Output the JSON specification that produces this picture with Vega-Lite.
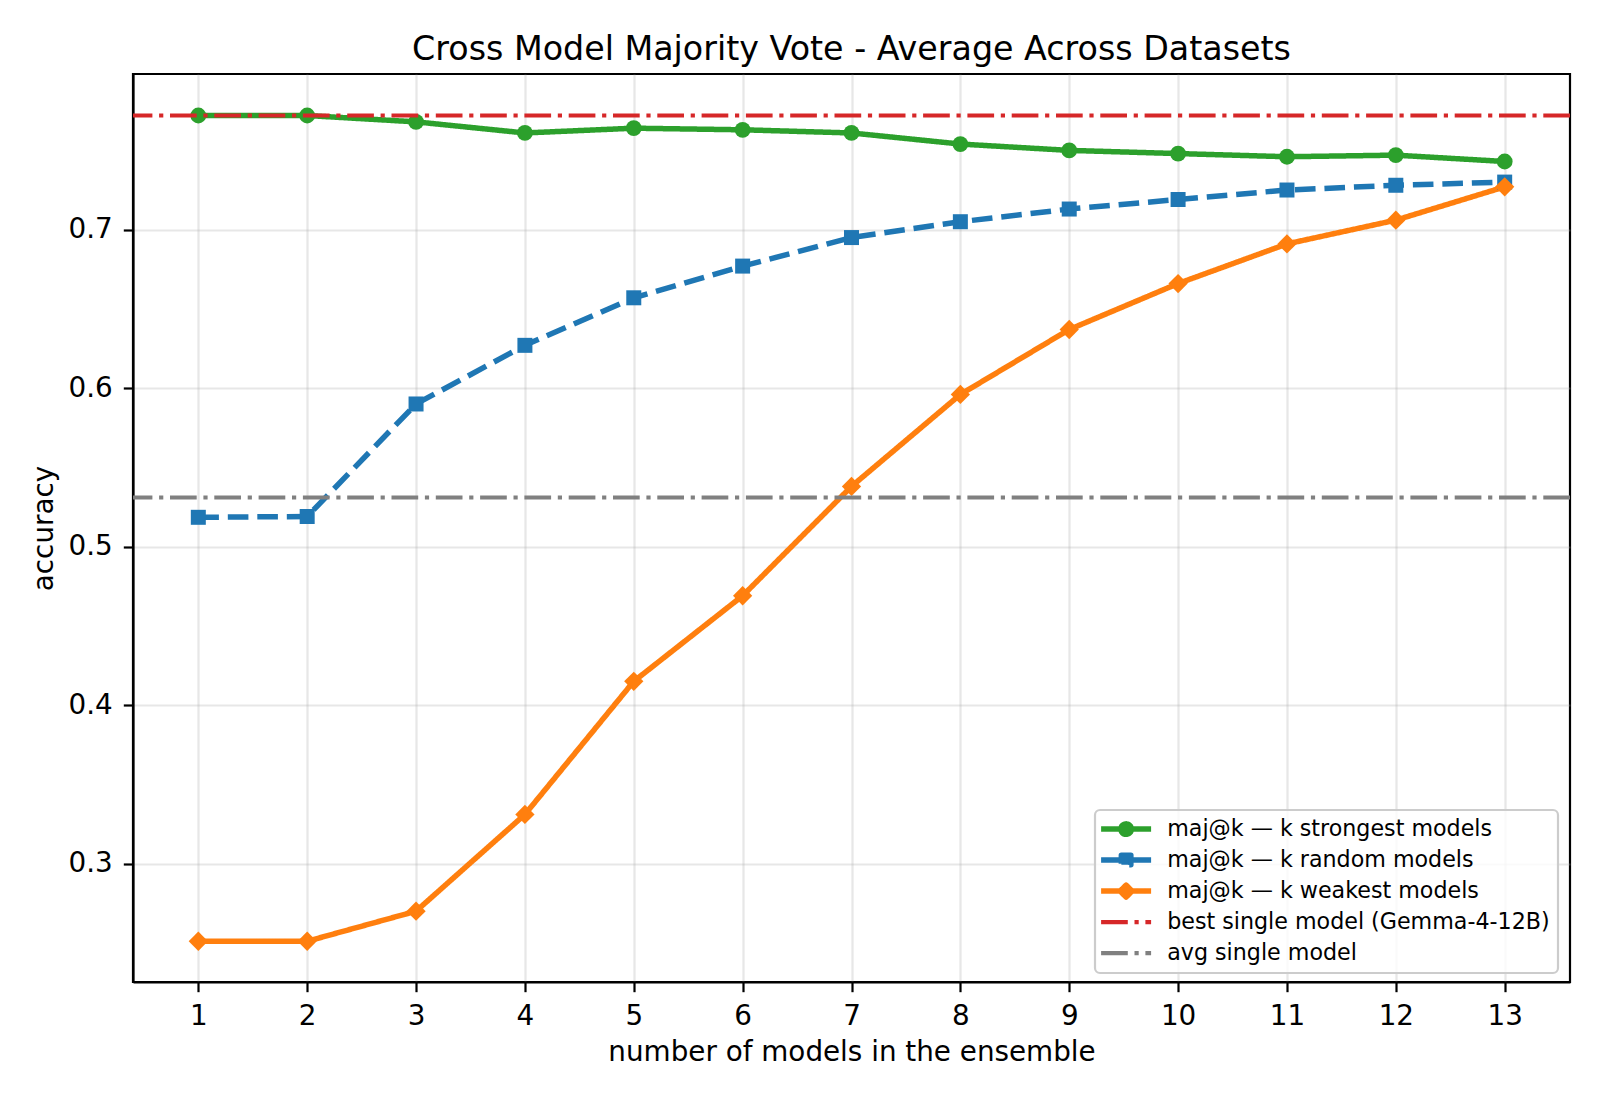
{
  "$schema": "https://vega.github.io/schema/vega-lite/v6.json",
  "width": 1437,
  "height": 908,
  "autosize": {"type": "none"},
  "padding": {"left": 133, "top": 74, "right": 30, "bottom": 118},
  "background": "white",
  "title": {
    "text": "Cross Model Majority Vote - Average Across Datasets",
    "font": "DejaVu Sans",
    "fontSize": 33.3,
    "fontWeight": "normal",
    "color": "black",
    "anchor": "middle",
    "baseline": "bottom",
    "offset": 9,
    "dy": 35
  },
  "datasets": {
    "ensemble": [
      {"k": 1, "series": "maj@k — k strongest models", "acc": 0.772},
      {"k": 2, "series": "maj@k — k strongest models", "acc": 0.772},
      {"k": 3, "series": "maj@k — k strongest models", "acc": 0.768},
      {"k": 4, "series": "maj@k — k strongest models", "acc": 0.761},
      {"k": 5, "series": "maj@k — k strongest models", "acc": 0.764},
      {"k": 6, "series": "maj@k — k strongest models", "acc": 0.763},
      {"k": 7, "series": "maj@k — k strongest models", "acc": 0.761},
      {"k": 8, "series": "maj@k — k strongest models", "acc": 0.754},
      {"k": 9, "series": "maj@k — k strongest models", "acc": 0.750},
      {"k": 10, "series": "maj@k — k strongest models", "acc": 0.748},
      {"k": 11, "series": "maj@k — k strongest models", "acc": 0.746},
      {"k": 12, "series": "maj@k — k strongest models", "acc": 0.747},
      {"k": 13, "series": "maj@k — k strongest models", "acc": 0.743},
      {"k": 1, "series": "maj@k — k random models", "acc": 0.5185},
      {"k": 2, "series": "maj@k — k random models", "acc": 0.519},
      {"k": 3, "series": "maj@k — k random models", "acc": 0.590},
      {"k": 4, "series": "maj@k — k random models", "acc": 0.627},
      {"k": 5, "series": "maj@k — k random models", "acc": 0.657},
      {"k": 6, "series": "maj@k — k random models", "acc": 0.677},
      {"k": 7, "series": "maj@k — k random models", "acc": 0.695},
      {"k": 8, "series": "maj@k — k random models", "acc": 0.705},
      {"k": 9, "series": "maj@k — k random models", "acc": 0.713},
      {"k": 10, "series": "maj@k — k random models", "acc": 0.719},
      {"k": 11, "series": "maj@k — k random models", "acc": 0.725},
      {"k": 12, "series": "maj@k — k random models", "acc": 0.728},
      {"k": 13, "series": "maj@k — k random models", "acc": 0.730},
      {"k": 1, "series": "maj@k — k weakest models", "acc": 0.251},
      {"k": 2, "series": "maj@k — k weakest models", "acc": 0.251},
      {"k": 3, "series": "maj@k — k weakest models", "acc": 0.270},
      {"k": 4, "series": "maj@k — k weakest models", "acc": 0.331},
      {"k": 5, "series": "maj@k — k weakest models", "acc": 0.415},
      {"k": 6, "series": "maj@k — k weakest models", "acc": 0.469},
      {"k": 7, "series": "maj@k — k weakest models", "acc": 0.538},
      {"k": 8, "series": "maj@k — k weakest models", "acc": 0.596},
      {"k": 9, "series": "maj@k — k weakest models", "acc": 0.637},
      {"k": 10, "series": "maj@k — k weakest models", "acc": 0.666},
      {"k": 11, "series": "maj@k — k weakest models", "acc": 0.691},
      {"k": 12, "series": "maj@k — k weakest models", "acc": 0.706},
      {"k": 13, "series": "maj@k — k weakest models", "acc": 0.727}
    ],
    "reference": [
      {"series": "best single model (Gemma-4-12B)", "acc": 0.772},
      {"series": "avg single model", "acc": 0.531}
    ]
  },
  "encoding": {
    "color": {
      "field": "series",
      "type": "nominal",
      "scale": {
        "domain": ["maj@k — k strongest models", "maj@k — k random models", "maj@k — k weakest models", "best single model (Gemma-4-12B)", "avg single model"],
        "range": ["#2ca02c", "#1f77b4", "#ff7f0e", "#d62728", "#808080"]
      },
      "legend": {
        "title": null,
        "orient": "none",
        "legendX": 962,
        "legendY": 736,
        "fillColor": "rgba(255,255,255,0.8)",
        "strokeColor": "#cccccc",
        "cornerRadius": 5,
        "padding": 8,
        "labelFont": "DejaVu Sans",
        "labelFontSize": 22.2,
        "labelColor": "black",
        "labelLimit": 600,
        "labelOffset": 42,
        "rowPadding": 8,
        "symbolSize": 400,
        "symbolStrokeWidth": 5.5,
        "encode": {
          "legend": {
            "update": {"strokeWidth": {"value": 2.2}}
          },
          "symbols": {
            "update": {
              "shape": {"signal": "datum.index == 0 ? 'M-1.3,0L3.7,0M0.675,0A0.525,0.525 0 1,0 1.725,0A0.525,0.525 0 1,0 0.675,0Z' : datum.index == 1 ? 'M-1.3,0L3.7,0M0.725,-0.475L1.675,-0.475L1.675,0.475L0.725,0.475Z' : datum.index == 2 ? 'M-1.3,0L3.7,0M1.2,-0.6L1.8,0L1.2,0.6L0.6,0Z' : 'M-1.3,0L3.7,0'"},
              "size": {"value": 400},
              "fill": {"scale": "color", "field": "value"},
              "stroke": {"scale": "color", "field": "value"},
              "strokeDash": {"signal": "datum.index == 1 ? [20.6, 8.9] : datum.index >= 3 ? [26.7, 6.7, 4.2, 6.7] : [1, 0]"},
              "strokeWidth": {"signal": "datum.index >= 3 ? 4.2 : 5.5"},
              "strokeJoin": {"value": "round"},
              "opacity": {"value": 1},
              "fillOpacity": {"value": 1}
            }
          }
        }
      }
    }
  },
  "layer": [
    {
      "data": {"name": "ensemble"},
      "mark": {"type": "line", "strokeWidth": 5.5},
      "encoding": {
        "x": {
          "field": "k",
          "type": "quantitative",
          "scale": {"domain": [0.4, 13.6], "nice": false, "zero": false},
          "axis": {
            "title": "number of models in the ensemble",
            "values": [1, 2, 3, 4, 5, 6, 7, 8, 9, 10, 11, 12, 13],
            "format": "d",
            "labelPadding": 11,
            "titlePadding": 8,
            "labelFlush": false
          }
        },
        "y": {
          "field": "acc",
          "type": "quantitative",
          "scale": {"domain": [0.2253, 0.7982], "nice": false, "zero": false},
          "axis": {
            "title": "accuracy",
            "values": [0.3, 0.4, 0.5, 0.6, 0.7],
            "format": ".1f",
            "labelPadding": 11,
            "titlePadding": 10
          }
        },
        "strokeDash": {
          "field": "series",
          "type": "nominal",
          "scale": {
            "domain": ["maj@k — k strongest models", "maj@k — k random models", "maj@k — k weakest models"],
            "range": [[1, 0], [20.6, 8.9], [1, 0]]
          },
          "legend": null
        }
      }
    },
    {
      "data": {"name": "ensemble"},
      "mark": {"type": "point", "filled": true, "opacity": 1},
      "encoding": {
        "x": {"field": "k", "type": "quantitative"},
        "y": {"field": "acc", "type": "quantitative"},
        "shape": {
          "field": "series",
          "type": "nominal",
          "scale": {
            "domain": ["maj@k — k strongest models", "maj@k — k random models", "maj@k — k weakest models"],
            "range": ["circle", "square", "M0,-1L1,0L0,1L-1,0Z"]
          },
          "legend": null
        },
        "size": {
          "field": "series",
          "type": "nominal",
          "scale": {
            "type": "ordinal",
            "domain": ["maj@k — k strongest models", "maj@k — k random models", "maj@k — k weakest models"],
            "range": [250, 225, 372]
          },
          "legend": null
        }
      }
    },
    {
      "data": {"name": "reference"},
      "mark": {"type": "rule", "strokeWidth": 4.2},
      "encoding": {
        "y": {"field": "acc", "type": "quantitative"},
        "strokeDash": {
          "field": "series",
          "type": "nominal",
          "scale": {
            "domain": ["best single model (Gemma-4-12B)", "avg single model"],
            "range": [[26.7, 6.7, 4.2, 6.7], [26.7, 6.7, 4.2, 6.7]]
          },
          "legend": null
        }
      }
    }
  ],
  "resolve": {"scale": {"strokeDash": "independent"}},
  "config": {
    "view": {"stroke": "black", "strokeWidth": 2.2},
    "axis": {
      "labelFont": "DejaVu Sans",
      "labelFontSize": 27.8,
      "labelColor": "black",
      "titleFont": "DejaVu Sans",
      "titleFontSize": 27.8,
      "titleFontWeight": "normal",
      "titleColor": "black",
      "domainColor": "black",
      "domainWidth": 2.2,
      "tickColor": "black",
      "tickWidth": 2.2,
      "tickSize": 9.7,
      "gridColor": "#b0b0b0",
      "gridOpacity": 0.3,
      "gridWidth": 2.2
    }
  }
}
